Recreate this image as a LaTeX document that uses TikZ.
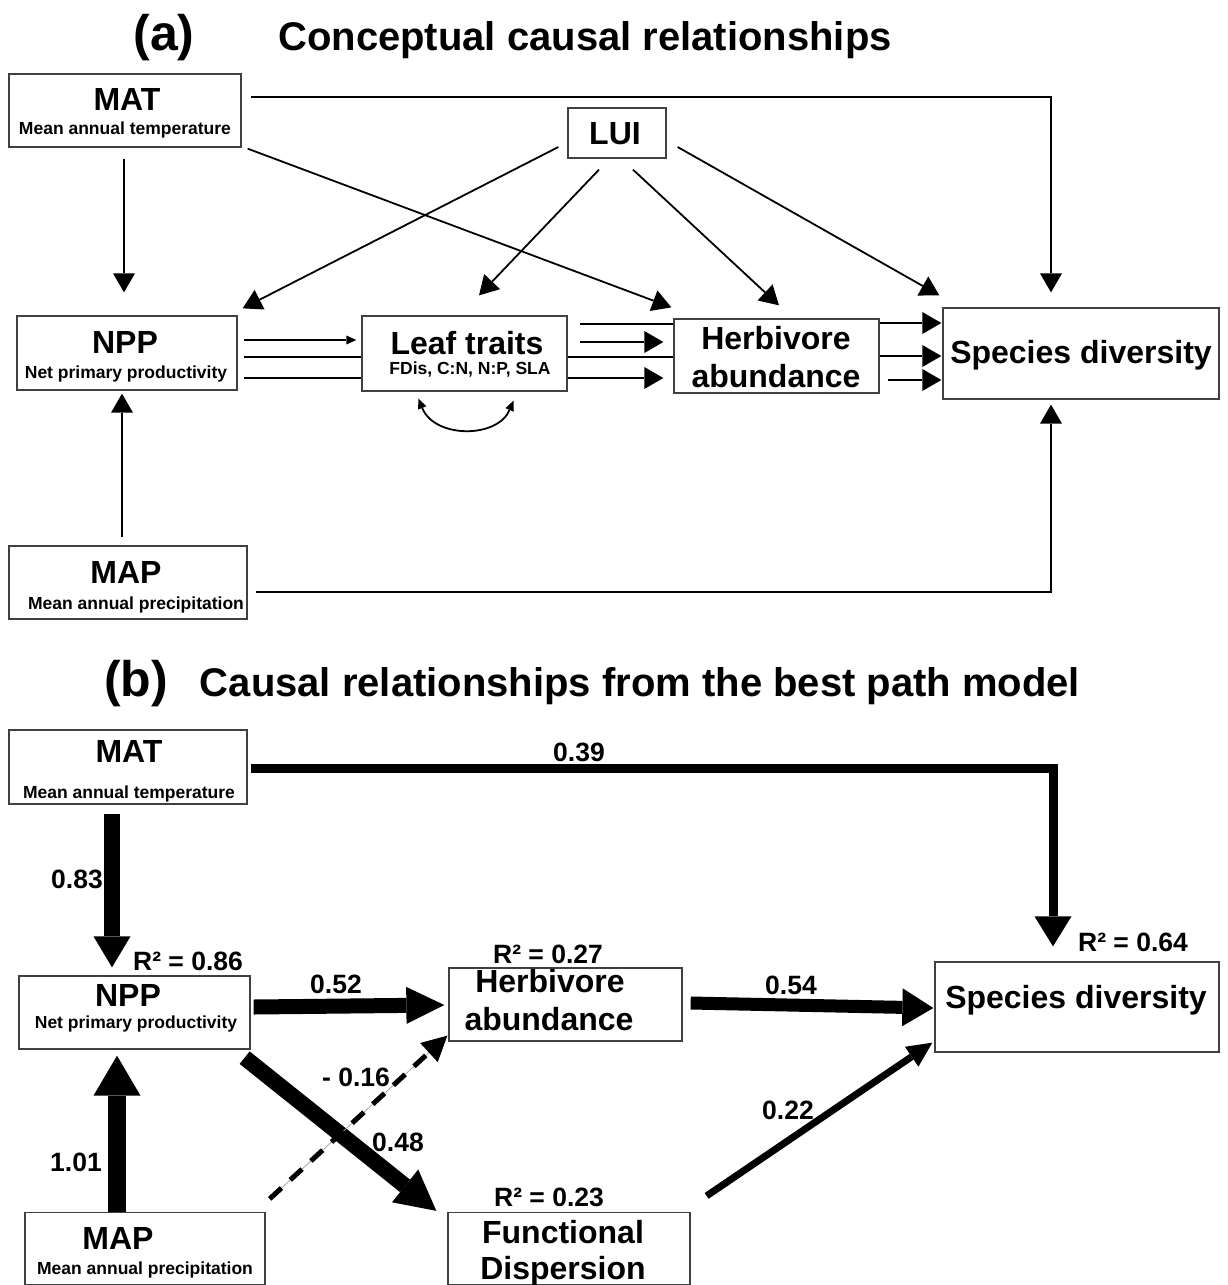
\documentclass[tikz,border=0pt]{standalone}
\usepackage{fontspec}
\setmainfont{Liberation Sans}
\usetikzlibrary{arrows.meta,calc}
\tikzset{
  box/.style={draw=black!75, line width=1.3pt, inner sep=0pt},
  txtbig/.style={font=\fontsize{32}{36}\selectfont\bfseries, anchor=base, inner sep=0pt},
  txtsub/.style={font=\fontsize{17.5}{20}\selectfont\bfseries, anchor=base, inner sep=0pt},
  txtlab/.style={font=\fontsize{26.5}{30}\selectfont\bfseries, anchor=base, inner sep=0pt},
  txttitle/.style={font=\fontsize{40}{46}\selectfont\bfseries, anchor=base, inner sep=0pt},
  txttag/.style={font=\fontsize{50}{56}\selectfont\bfseries, anchor=base, inner sep=0pt},
  aline/.style={line width=1.8pt},
  aarrow/.style={line width=1.8pt, -{Triangle[length=19pt,width=22pt,line width=0pt]}},
  smallarrow/.style={line width=1.8pt, -{Triangle[length=10pt,width=9pt,line width=0pt]}},
  curvearrow/.style={line width=1.8pt, {Triangle[length=10pt,width=9pt,line width=0pt]}-{Triangle[length=10pt,width=9pt,line width=0pt]}},
  tharrow/.style n args={3}{line width=#1, line join=miter, -{Triangle[length=#2,width=#3,line width=0pt]}}
}
\begin{document}
\begin{tikzpicture}[x=1pt,y=-1pt]
\useasboundingbox (0,0) rectangle (1227,1285);

% ---------------- (a) ----------------
\node[txttag] (tagA) at (164,50) {(a)};
\node[txttitle] (titleA) at (585,50) {Conceptual causal relationships};

\node[box, minimum width=232pt, minimum height=73pt] (aMAT) at (125,110.5) {};
\node[txtbig] (aMATt) at (127,110) {MAT};
\node[txtsub] (aMATs) at (125,134) {Mean annual temperature};

\node[box, minimum width=98pt, minimum height=50pt] (aLUI) at (617,133) {};
\node[txtbig] (aLUIt) at (615,144) {LUI};

\node[box, minimum width=220pt, minimum height=74pt] (aNPP) at (127,353) {};
\node[txtbig] (aNPPt) at (125,353) {NPP};
\node[txtsub] (aNPPs) at (126,378) {Net primary productivity};

\node[box, minimum width=205pt, minimum height=75pt] (aLeaf) at (464.5,353.5) {};
\node[txtbig] (aLeaft) at (467,354) {Leaf traits};
\node[txtsub] (aLeafs) at (470,374) {FDis, C:N, N:P, SLA};

\node[box, minimum width=205pt, minimum height=74pt] (aHerb) at (776.5,356) {};
\node[txtbig] (aHerbt) at (776,349) {Herbivore};
\node[txtbig] (aHerbu) at (776,387) {abundance};

\node[box, minimum width=276pt, minimum height=91pt] (aSpec) at (1081,353.5) {};
\node[txtbig] (aSpect) at (1081,363) {Species diversity};

\node[box, minimum width=238pt, minimum height=73pt] (aMAP) at (128,582.5) {};
\node[txtbig] (aMAPt) at (126,583) {MAP};
\node[txtsub] (aMAPs) at (136,609) {Mean annual precipitation};

% connectors (a)
\draw[aarrow] ($(aMAT.south)+(-1,11)$) -- ($(aNPP.north)+(-3,-23)$);
\draw[aarrow] ($(aMAT.east)+(9,-13.5)$) -| ($(aSpec.north)+(-30,-15)$);
\draw[aarrow] ($(aMAT.south east)+(6,1)$) -- ($(aHerb.north west)+(-2,-11)$);
\draw[aarrow] ($(aLUI.west)+(-9,14)$) -- ($(aNPP.north east)+(5,-7)$);
\draw[aarrow] ($(aLUI.south)+(-18,11)$) -- ($(aLeaf.north)+(14.5,-20)$);
\draw[aarrow] ($(aLUI.south)+(16,11)$) -- ($(aHerb.north)+(2.5,-13)$);
\draw[aarrow] ($(aLUI.east)+(11,14)$) -- ($(aSpec.north west)+(-3,-12)$);
\draw[aarrow] ($(aMAP.north)+(-6,-8)$) -- ($(aNPP.south)+(-5,3)$);
\draw[aarrow] ($(aMAP.east)+(8,9.5)$) -| ($(aSpec.south)+(-30,5)$);

\coordinate (r323) at (0,323);
\coordinate (r324) at (0,324);
\coordinate (r340) at (0,340);
\coordinate (r342) at (0,342);
\coordinate (r356) at (0,356);
\coordinate (r357) at (0,357);
\coordinate (r378) at (0,378);
\coordinate (r380) at (0,380);

\draw[smallarrow] ($(aNPP.east |- r340)+(6,0)$) -- ($(aLeaf.west |- r340)+(-5,0)$);
\draw[aline] ($(aNPP.east |- r357)+(6,0)$) -- (aLeaf.west |- r357);
\draw[aline] ($(aNPP.east |- r378)+(6,0)$) -- (aLeaf.west |- r378);
\draw[aline] ($(aLeaf.east |- r324)+(12,0)$) -- (aHerb.west |- r324);
\draw[aarrow] ($(aLeaf.east |- r342)+(12,0)$) -- ($(aHerb.west |- r342)+(-10,0)$);
\draw[aline] (aLeaf.east |- r357) -- (aHerb.west |- r357);
\draw[aarrow] (aLeaf.east |- r378) -- ($(aHerb.west |- r378)+(-10,0)$);
\draw[aarrow] (aHerb.east |- r323) -- ($(aSpec.west |- r323)+(-1,0)$);
\draw[aarrow] (aHerb.east |- r356) -- ($(aSpec.west |- r356)+(-1,0)$);
\draw[aarrow] ($(aHerb.east |- r380)+(8,0)$) -- ($(aSpec.west |- r380)+(-1,0)$);

\coordinate (cvL) at ($(aLeaf.south)+(-46,7)$);
\coordinate (cvR) at ($(aLeaf.south)+(49,9)$);
\draw[curvearrow] (cvL) .. controls ($(cvL)+(16,40)$) and ($(cvR)+(-16,38)$) .. (cvR);

% ---------------- (b) ----------------
\node[txttag] (tagB) at (136,696) {(b)};
\node[txttitle] (titleB) at (640,696) {Causal relationships from the best path model};

\node[box, minimum width=238pt, minimum height=74pt] (bMAT) at (128,767) {};
\node[txtbig] (bMATt) at (129,762) {MAT};
\node[txtsub] (bMATs) at (129,798) {Mean annual temperature};

\node[box, minimum width=231pt, minimum height=73pt] (bNPP) at (134.5,1012.5) {};
\node[txtbig] (bNPPt) at (128,1006) {NPP};
\node[txtsub] (bNPPs) at (136,1028) {Net primary productivity};

\node[box, minimum width=233pt, minimum height=73pt] (bHerb) at (565.5,1004.5) {};
\node[txtbig] (bHerbt) at (550,992) {Herbivore};
\node[txtbig] (bHerbu) at (549,1030) {abundance};

\node[box, minimum width=284pt, minimum height=90pt] (bSpec) at (1077,1007) {};
\node[txtbig] (bSpect) at (1076,1008) {Species diversity};

\node[box, minimum width=240pt, minimum height=72pt] (bMAP) at (145,1248.5) {};
\node[txtbig] (bMAPt) at (118,1249) {MAP};
\node[txtsub] (bMAPs) at (145,1274) {Mean annual precipitation};

\node[box, minimum width=242pt, minimum height=72pt] (bFunc) at (569,1248.5) {};
\node[txtbig] (bFunct) at (563,1243) {Functional};
\node[txtbig] (bFuncu) at (563,1279) {Dispersion};

% labels (b)
\node[txtlab] (l086) at (188,970) {R² = 0.86};
\node[txtlab] (l052) at (336,993) {0.52};
\node[txtlab] (l083) at (77,888) {0.83};
\node[txtlab] (l101) at (76,1171) {1.01};
\node[txtlab] (l039) at (579,761) {0.39};
\node[txtlab] (l027) at (548,963) {R² = 0.27};
\node[txtlab] (l054) at (791,994) {0.54};
\node[txtlab] (l064) at (1133,951) {R² = 0.64};
\node[txtlab] (l016) at (356,1086) {- 0.16};
\node[txtlab] (l048) at (398,1151) {0.48};
\node[txtlab] (l022) at (788,1119) {0.22};
\node[txtlab] (l023) at (549,1206) {R² = 0.23};

% connectors (b)
\draw[tharrow={9pt}{30pt}{37pt}] ($(bMAT.east)+(3,1)$) -| ($(bSpec.north)+(-24,-15)$);
\draw[tharrow={16pt}{31pt}{37pt}] ($(bMAT.south)+(-16,9)$) -- ($(bNPP.north)+(-22.5,-8)$);
\draw[tharrow={18pt}{40pt}{47pt}] ($(bMAP.north)+(-28,0)$) -- ($(bNPP.south)+(-17.5,6)$);
\draw[tharrow={15pt}{38pt}{37pt}] ($(bNPP.east)+(3,-5.5)$) -- ($(bHerb.west)+(-4,0.5)$);
\draw[tharrow={13pt}{31pt}{38pt}] ($(bHerb.east)+(8,-1.5)$) -- ($(bSpec.west)+(-1,1)$);
\draw[tharrow={16pt}{40pt}{42pt}] ($(bNPP.south east)+(-6,8)$) -- ($(bFunc.north west)+(-11,-1)$);
\draw[tharrow={7pt}{25pt}{24pt}] ($(bFunc.north east)+(16,-16)$) -- ($(bSpec.south west)+(-2,-10)$);
\draw[black!35, line width=0.8pt] ($(bMAP.north east)+(4,-13)$) -- ($(bHerb.south west)+(-1,-6)$);
\draw[tharrow={5pt}{25pt}{26pt}, dash pattern=on 16pt off 12pt] ($(bMAP.north east)+(4,-13)$) -- ($(bHerb.south west)+(-1,-6)$);
\end{tikzpicture}
\end{document}
